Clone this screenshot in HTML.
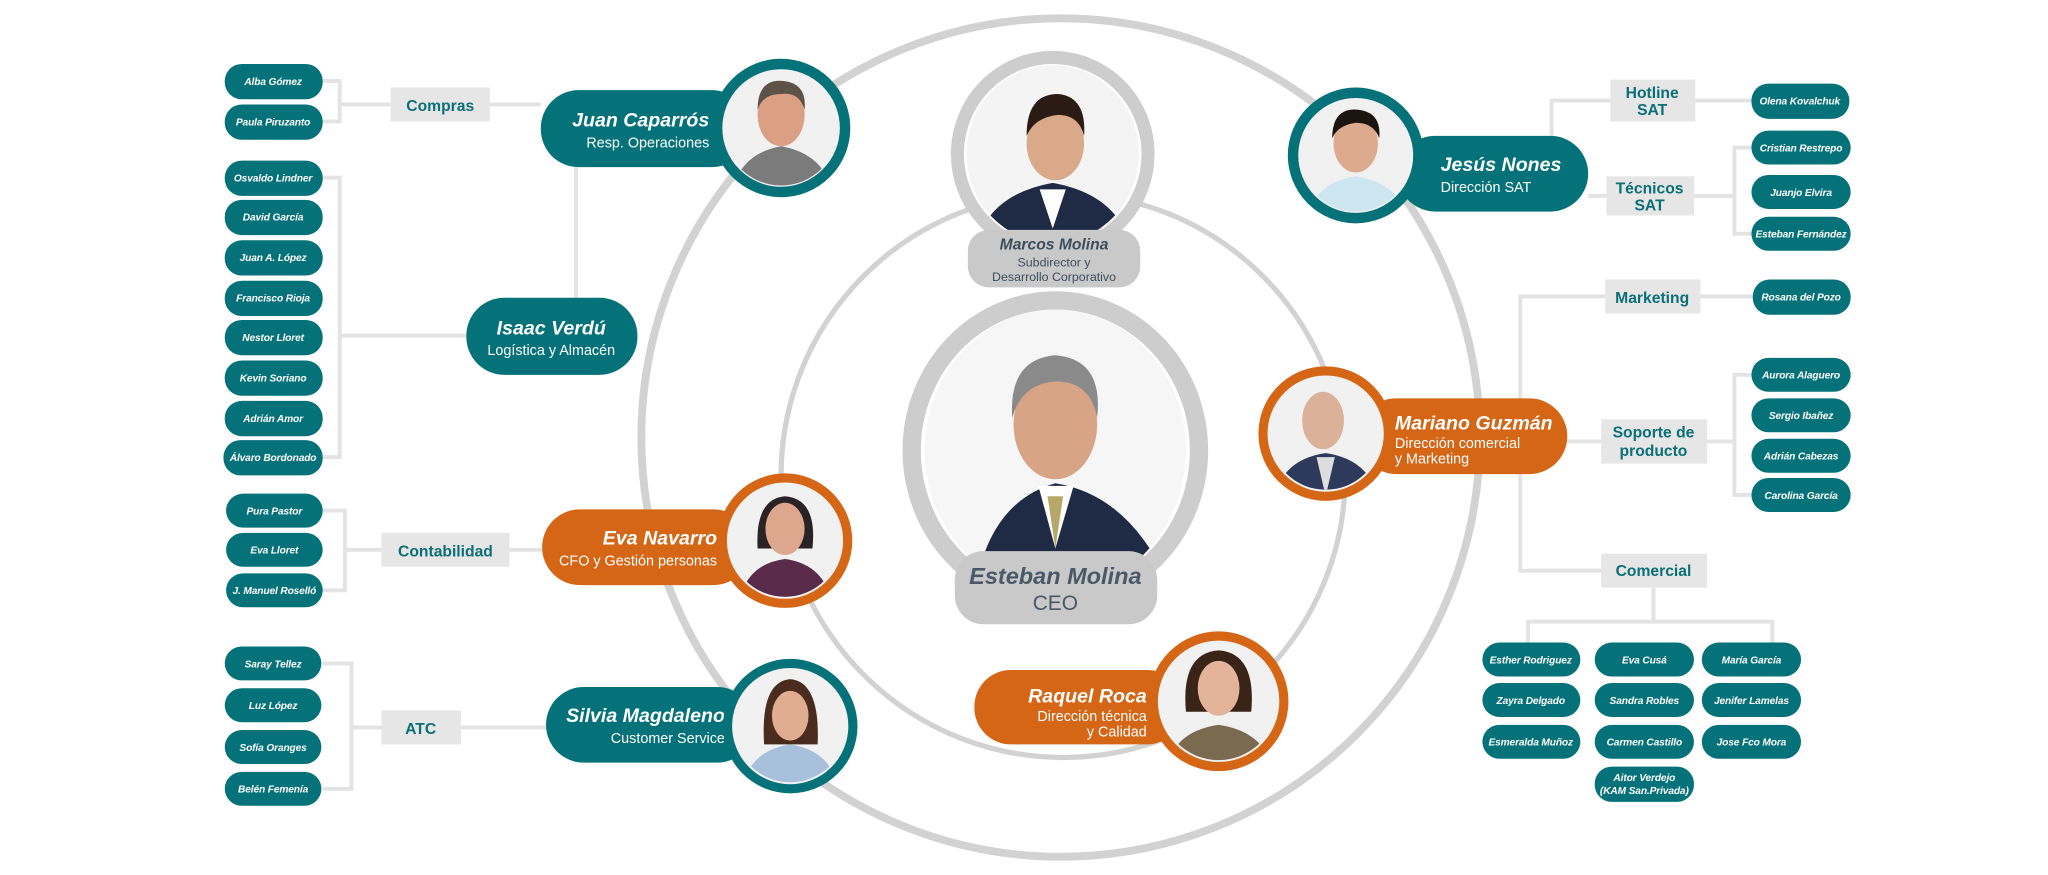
<!DOCTYPE html>
<html><head><meta charset="utf-8"><style>
html,body{margin:0;padding:0;background:#fff;}
svg{display:block;}
.pt{font-family:"Liberation Sans",sans-serif;font-weight:bold;font-style:italic;fill:#fff;font-size:7.8px;text-anchor:middle;letter-spacing:-0.1px;}
.bx{font-family:"Liberation Sans",sans-serif;font-weight:bold;fill:#0b6f78;font-size:12px;text-anchor:middle;}
.nm{font-family:"Liberation Sans",sans-serif;font-weight:bold;font-style:italic;fill:#fff;font-size:15px;}
.sb{font-family:"Liberation Sans",sans-serif;fill:#fff;font-size:11px;}
.ln{stroke:#e3e3e3;stroke-width:3;fill:none;}
.tp{fill:#05727a;}
.op{fill:#d46615;}
.gb{fill:#e6e6e6;}
</style></head><body>
<svg width="2048" height="875" viewBox="0 0 1568 670" xmlns="http://www.w3.org/2000/svg">
<defs>
<clipPath id="c1"><circle cx="598" cy="98" r="44"/></clipPath>
<clipPath id="c2"><circle cx="601" cy="414" r="43"/></clipPath>
<clipPath id="c3"><circle cx="605" cy="556" r="43"/></clipPath>
<clipPath id="c4"><circle cx="933" cy="537" r="45"/></clipPath>
<clipPath id="c5"><circle cx="1038" cy="119" r="43"/></clipPath>
<clipPath id="c6"><circle cx="1015" cy="332" r="43"/></clipPath>
<clipPath id="c7"><ellipse cx="806" cy="118" rx="66" ry="68"/></clipPath>
<clipPath id="c8"><ellipse cx="808" cy="345" rx="100" ry="108"/></clipPath>
</defs>

<circle cx="812" cy="335" r="321" fill="none" stroke="#d2d2d2" stroke-width="6"/>
<circle cx="814" cy="364" r="216" fill="none" stroke="#d2d2d2" stroke-width="4"/>

<path class="ln" d="M247 62 H260 V93 H247 M260 80 H299 M375 80 H414"/>
<path class="ln" d="M441 128 V228"/>
<path class="ln" d="M247 136 H260 V350 H247 M260 257 H357"/>
<path class="ln" d="M247 391 H264 V452 H247 M264 421 H292 M390 421 H415"/>
<path class="ln" d="M247 508 H269 V604 H247 M269 557 H292 M353 557 H418"/>
<path class="ln" d="M1188 104 V77 H1233 M1298 77 H1341"/>
<path class="ln" d="M1216 150 H1230 M1297 150 H1328 M1341 113 H1328 V179 H1341"/>
<path class="ln" d="M1164 363 V437 H1226 M1164 305 V227 H1229 M1302 227 H1342 M1200 338 H1226 M1307 338 H1328 M1341 287 H1328 V379 H1341"/>
<path class="ln" d="M1266 450 V476 M1170 492 V476 H1357 V492"/>

<ellipse cx="806" cy="118" rx="73" ry="74" fill="#fff" stroke="#cdcdcd" stroke-width="10"/>
<g clip-path="url(#c7)"><rect x="730" y="40" width="160" height="160" fill="#f4f4f4"/>
<path d="M745 200 Q750 150 806 140 Q862 150 868 200Z" fill="#1f2b45"/>
<path d="M796 145 L806 175 L816 145Z" fill="#fff"/>
<ellipse cx="808" cy="110" rx="22" ry="28" fill="#d9a98a"/>
<path d="M786 104 Q786 72 810 72 Q832 74 830 104 Q826 88 810 88 Q792 90 786 104Z" fill="#2a1c14"/></g>
<rect x="741" y="176" width="132" height="44" rx="16" fill="#c9c9c9"/>
<text x="807" y="191" font-family="Liberation Sans,sans-serif" font-weight="bold" font-style="italic" font-size="12" fill="#3e4d5c" text-anchor="middle">Marcos Molina</text>
<text x="807" y="204" font-family="Liberation Sans,sans-serif" font-size="9.5" fill="#3e4d5c" text-anchor="middle">Subdirector y</text>
<text x="807" y="215" font-family="Liberation Sans,sans-serif" font-size="9.5" fill="#3e4d5c" text-anchor="middle">Desarrollo Corporativo</text>

<ellipse cx="808" cy="345" rx="110" ry="115" fill="#fff" stroke="#cdcdcd" stroke-width="14"/>
<g clip-path="url(#c8)"><rect x="700" y="230" width="220" height="230" fill="#f6f6f6"/>
<path d="M745 460 Q755 385 808 370 Q870 380 900 460Z" fill="#1f2b45"/>
<path d="M795 372 L808 420 L822 372Z" fill="#fff"/>
<path d="M802 380 L808 420 L814 380Z" fill="#b7a86a"/>
<ellipse cx="808" cy="325" rx="32" ry="42" fill="#d8a486"/>
<path d="M775 320 Q772 275 808 272 Q845 275 840 320 Q835 292 808 292 Q782 294 775 320Z" fill="#8a8a8a"/></g>
<rect x="731" y="422" width="155" height="56" rx="22" fill="#c9c9c9"/>
<text x="808" y="447" font-family="Liberation Sans,sans-serif" font-weight="bold" font-style="italic" font-size="18" fill="#4a5868" text-anchor="middle">Esteban Molina</text>
<text x="808" y="467" font-family="Liberation Sans,sans-serif" font-size="16" fill="#4a5868" text-anchor="middle">CEO</text>

<rect class="tp" x="414" y="69" width="160" height="59" rx="29"/>
<text class="nm" x="543" y="97" text-anchor="end">Juan Caparrós</text>
<text class="sb" x="543" y="113" text-anchor="end">Resp. Operaciones</text>
<circle cx="598" cy="98" r="49" fill="#f1f1f1" stroke="#05727a" stroke-width="8"/>
<g clip-path="url(#c1)"><path d="M560 150 Q565 118 598 112 Q632 118 638 150Z" fill="#7b7b7b"/><ellipse cx="598" cy="88" rx="18" ry="24" fill="#dba084"/><path d="M580 84 Q580 60 600 62 Q618 64 616 84 Q612 70 598 72 Q584 72 580 84Z" fill="#5c5248"/></g>

<rect class="tp" x="357" y="228" width="131" height="59" rx="29"/>
<text class="nm" x="422" y="256" text-anchor="middle">Isaac Verdú</text>
<text class="sb" x="422" y="272" text-anchor="middle">Logística y Almacén</text>

<rect class="op" x="415" y="390" width="160" height="58" rx="29"/>
<text class="nm" x="549" y="417" text-anchor="end">Eva Navarro</text>
<text class="sb" x="549" y="433" text-anchor="end">CFO y Gestión personas</text>
<circle cx="601" cy="414" r="48" fill="#f1f1f1" stroke="#d46615" stroke-width="7"/>
<g clip-path="url(#c2)"><path d="M565 465 Q570 432 601 428 Q632 432 638 465Z" fill="#5a2a4a"/><path d="M580 420 Q578 382 601 380 Q626 382 622 420Z" fill="#2a2224"/><ellipse cx="601" cy="405" rx="15" ry="20" fill="#dca78c"/></g>

<rect class="tp" x="418" y="526" width="160" height="58" rx="29"/>
<text class="nm" x="555" y="553" text-anchor="end">Silvia Magdaleno</text>
<text class="sb" x="555" y="569" text-anchor="end">Customer Service</text>
<circle cx="605" cy="556" r="48" fill="#f1f1f1" stroke="#05727a" stroke-width="7"/>
<g clip-path="url(#c3)"><path d="M568 605 Q573 575 605 570 Q637 575 642 605Z" fill="#a9c0dc"/><path d="M585 570 Q582 522 605 520 Q628 522 626 570Z" fill="#4a2c1e"/><ellipse cx="605" cy="548" rx="14" ry="19" fill="#e1ad90"/></g>

<rect class="op" x="746" y="513" width="160" height="57" rx="28"/>
<text class="nm" x="878" y="538" text-anchor="end">Raquel Roca</text>
<text class="sb" x="878" y="552" text-anchor="end">Dirección técnica</text>
<text class="sb" x="878" y="564" text-anchor="end">y Calidad</text>
<circle cx="933" cy="537" r="50" fill="#f1f1f1" stroke="#d46615" stroke-width="7"/>
<g clip-path="url(#c4)"><path d="M893 590 Q898 560 933 555 Q968 560 975 590Z" fill="#7a6a50"/><path d="M908 545 Q904 500 933 498 Q962 500 958 545Z" fill="#3a2418"/><ellipse cx="933" cy="527" rx="16" ry="21" fill="#e3b39a"/></g>

<rect class="tp" x="1070" y="104" width="146" height="58" rx="29"/>
<circle cx="1038" cy="119" r="48" fill="#f1f1f1" stroke="#05727a" stroke-width="8"/>
<g clip-path="url(#c5)"><path d="M1000 170 Q1005 140 1038 135 Q1072 140 1078 170Z" fill="#cde6f0"/><ellipse cx="1038" cy="110" rx="17" ry="22" fill="#dcaa8c"/><path d="M1020 106 Q1020 82 1040 84 Q1058 86 1056 106 Q1052 94 1038 94 Q1024 96 1020 106Z" fill="#1c1410"/></g>
<text class="nm" x="1103" y="131">Jesús Nones</text>
<text class="sb" x="1103" y="147">Dirección SAT</text>

<rect class="op" x="1040" y="305" width="160" height="58" rx="29"/>
<circle cx="1015" cy="332" r="48" fill="#f1f1f1" stroke="#d46615" stroke-width="7"/>
<g clip-path="url(#c6)"><path d="M975 385 Q980 352 1015 347 Q1050 352 1056 385Z" fill="#2d3a5c"/><path d="M1008 350 L1015 380 L1022 350Z" fill="#ddd"/><ellipse cx="1013" cy="322" rx="16" ry="22" fill="#dcb19a"/></g>
<text class="nm" x="1068" y="329">Mariano Guzmán</text>
<text class="sb" x="1068" y="343">Dirección comercial</text>
<text class="sb" x="1068" y="355">y Marketing</text>

<rect class="gb" x="299" y="67" width="76" height="26"/><text class="bx" x="337" y="85">Compras</text>
<rect class="gb" x="292" y="408" width="98" height="26"/><text class="bx" x="341" y="426">Contabilidad</text>
<rect class="gb" x="292" y="544" width="61" height="26"/><text class="bx" x="322" y="562">ATC</text>
<rect class="gb" x="1233" y="61" width="65" height="32"/><text class="bx" x="1265" y="75">Hotline</text><text class="bx" x="1265" y="88">SAT</text>
<rect class="gb" x="1230" y="135" width="67" height="30"/><text class="bx" x="1263" y="148">Técnicos</text><text class="bx" x="1263" y="161">SAT</text>
<rect class="gb" x="1229" y="214" width="73" height="26"/><text class="bx" x="1265" y="232">Marketing</text>
<rect class="gb" x="1226" y="321" width="81" height="34"/><text class="bx" x="1266" y="335">Soporte de</text><text class="bx" x="1266" y="349">producto</text>
<rect class="gb" x="1226" y="424" width="81" height="26"/><text class="bx" x="1266" y="441">Comercial</text>

<g>
<rect class="tp" x="172" y="49" width="75" height="27" rx="13"/><text class="pt" x="209" y="65">Alba Gómez</text>
<rect class="tp" x="172" y="80" width="75" height="27" rx="13"/><text class="pt" x="209" y="96">Paula Piruzanto</text>
<rect class="tp" x="172" y="123" width="75" height="27" rx="13"/><text class="pt" x="209" y="139">Osvaldo Lindner</text>
<rect class="tp" x="172" y="153" width="75" height="27" rx="13"/><text class="pt" x="209" y="169">David García</text>
<rect class="tp" x="172" y="184" width="75" height="27" rx="13"/><text class="pt" x="209" y="200">Juan A. López</text>
<rect class="tp" x="172" y="215" width="75" height="27" rx="13"/><text class="pt" x="209" y="231">Francisco Rioja</text>
<rect class="tp" x="172" y="245" width="75" height="27" rx="13"/><text class="pt" x="209" y="261">Nestor Lloret</text>
<rect class="tp" x="172" y="276" width="75" height="27" rx="13"/><text class="pt" x="209" y="292">Kevin Soriano</text>
<rect class="tp" x="172" y="307" width="75" height="27" rx="13"/><text class="pt" x="209" y="323">Adrián Amor</text>
<rect class="tp" x="171" y="337" width="76" height="27" rx="13"/><text class="pt" x="209" y="353">Álvaro Bordonado</text>
<rect class="tp" x="173" y="378" width="74" height="26" rx="13"/><text class="pt" x="210" y="394">Pura Pastor</text>
<rect class="tp" x="173" y="408" width="74" height="26" rx="13"/><text class="pt" x="210" y="424">Eva Lloret</text>
<rect class="tp" x="173" y="439" width="74" height="26" rx="13"/><text class="pt" x="210" y="455">J. Manuel Roselló</text>
<rect class="tp" x="172" y="495" width="74" height="26" rx="13"/><text class="pt" x="209" y="511">Saray Tellez</text>
<rect class="tp" x="172" y="527" width="74" height="26" rx="13"/><text class="pt" x="209" y="543">Luz López</text>
<rect class="tp" x="172" y="559" width="74" height="26" rx="13"/><text class="pt" x="209" y="575">Sofía Oranges</text>
<rect class="tp" x="172" y="591" width="74" height="26" rx="13"/><text class="pt" x="209" y="607">Belén Femenía</text>
</g>
<g>
<rect class="tp" x="1341" y="64" width="75" height="27" rx="13"/><text class="pt" x="1378" y="80">Olena Kovalchuk</text>
<rect class="tp" x="1341" y="100" width="76" height="26" rx="13"/><text class="pt" x="1379" y="116">Cristian Restrepo</text>
<rect class="tp" x="1341" y="134" width="76" height="26" rx="13"/><text class="pt" x="1379" y="150">Juanjo Elvira</text>
<rect class="tp" x="1341" y="166" width="76" height="26" rx="13"/><text class="pt" x="1379" y="182">Esteban Fernández</text>
<rect class="tp" x="1342" y="214" width="75" height="27" rx="13"/><text class="pt" x="1379" y="230">Rosana del Pozo</text>
<rect class="tp" x="1341" y="274" width="76" height="26" rx="13"/><text class="pt" x="1379" y="290">Aurora Alaguero</text>
<rect class="tp" x="1341" y="305" width="76" height="26" rx="13"/><text class="pt" x="1379" y="321">Sergio Ibañez</text>
<rect class="tp" x="1341" y="336" width="76" height="26" rx="13"/><text class="pt" x="1379" y="352">Adrián Cabezas</text>
<rect class="tp" x="1341" y="366" width="76" height="26" rx="13"/><text class="pt" x="1379" y="382">Carolina García</text>
<rect class="tp" x="1135" y="492" width="75" height="26" rx="13"/><text class="pt" x="1172" y="508">Esther Rodriguez</text>
<rect class="tp" x="1221" y="492" width="76" height="26" rx="13"/><text class="pt" x="1259" y="508">Eva Cusá</text>
<rect class="tp" x="1303" y="492" width="76" height="26" rx="13"/><text class="pt" x="1341" y="508">María García</text>
<rect class="tp" x="1135" y="523" width="75" height="26" rx="13"/><text class="pt" x="1172" y="539">Zayra Delgado</text>
<rect class="tp" x="1221" y="523" width="76" height="26" rx="13"/><text class="pt" x="1259" y="539">Sandra Robles</text>
<rect class="tp" x="1303" y="523" width="76" height="26" rx="13"/><text class="pt" x="1341" y="539">Jenifer Lamelas</text>
<rect class="tp" x="1135" y="555" width="75" height="26" rx="13"/><text class="pt" x="1172" y="571">Esmeralda Muñoz</text>
<rect class="tp" x="1221" y="555" width="76" height="26" rx="13"/><text class="pt" x="1259" y="571">Carmen Castillo</text>
<rect class="tp" x="1303" y="555" width="76" height="26" rx="13"/><text class="pt" x="1341" y="571">Jose Fco Mora</text>
<rect class="tp" x="1221" y="587" width="76" height="27" rx="13"/><text class="pt" x="1259" y="598">Aitor Verdejo</text><text class="pt" x="1259" y="608">(KAM San.Privada)</text>
</g>
</svg>
</body></html>
